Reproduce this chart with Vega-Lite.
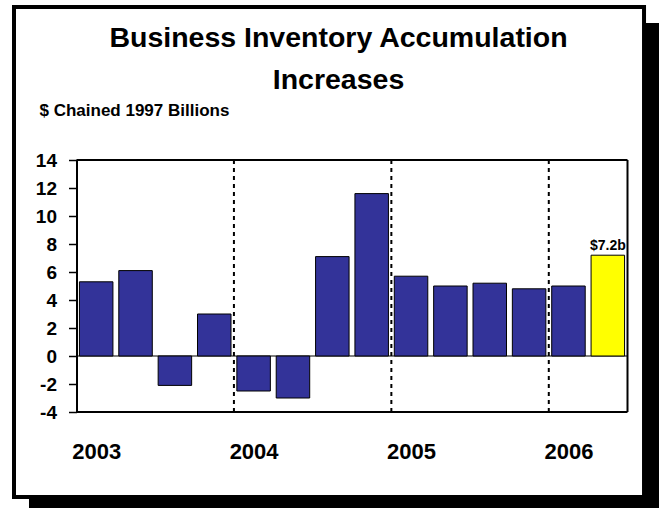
{
  "$schema": "https://vega.github.io/schema/vega-lite/v6.json",
  "width": 551,
  "height": 252,
  "autosize": {"type": "none"},
  "padding": {"left": 76.5, "top": 160, "right": 31.5, "bottom": 96},
  "background": "white",
  "config": {"view": {"stroke": null}, "font": "Liberation Sans"},
  "title": {
    "text": ["Business Inventory Accumulation", "Increases"],
    "frame": "group",
    "anchor": "middle",
    "dx": -13.5,
    "offset": -113,
    "baseline": "alphabetic",
    "lineHeight": 42,
    "fontSize": 28.5,
    "fontWeight": "bold",
    "font": "Liberation Sans",
    "color": "black"
  },
  "data": {
    "values": [
      {"quarter": "2003 Q1", "q": 1, "value": 5.3},
      {"quarter": "2003 Q2", "q": 2, "value": 6.1},
      {"quarter": "2003 Q3", "q": 3, "value": -2.1},
      {"quarter": "2003 Q4", "q": 4, "value": 3.0},
      {"quarter": "2004 Q1", "q": 5, "value": -2.5},
      {"quarter": "2004 Q2", "q": 6, "value": -3.0},
      {"quarter": "2004 Q3", "q": 7, "value": 7.1},
      {"quarter": "2004 Q4", "q": 8, "value": 11.6},
      {"quarter": "2005 Q1", "q": 9, "value": 5.7},
      {"quarter": "2005 Q2", "q": 10, "value": 5.0},
      {"quarter": "2005 Q3", "q": 11, "value": 5.2},
      {"quarter": "2005 Q4", "q": 12, "value": 4.8},
      {"quarter": "2006 Q1", "q": 13, "value": 5.0},
      {"quarter": "2006 Q2", "q": 14, "value": 7.2, "label": "$7.2b"}
    ]
  },
  "layer": [
    {
      "data": {"values": [{}]},
      "mark": {"type": "rect", "fill": "black"},
      "encoding": {
        "x": {
          "datum": -0.707,
          "type": "quantitative",
          "scale": {"domain": [0.5, 14.5], "nice": false, "zero": false, "padding": 0},
          "axis": {
            "values": [1, 5, 9, 13],
            "labelExpr": "datum.value == 1 ? '2003' : datum.value == 5 ? '2004' : datum.value == 9 ? '2005' : '2006'",
            "ticks": false,
            "domain": false,
            "grid": false,
            "title": null,
            "labelFontSize": 22,
            "labelFontWeight": "bold",
            "labelColor": "black",
            "labelPadding": 29,
            "labelAngle": 0,
            "labelFlush": false,
            "labelOverlap": false,
            "zindex": 2
          }
        },
        "x2": {"datum": 15.45},
        "y": {
          "datum": 23.79,
          "type": "quantitative",
          "scale": {"domain": [-4, 14], "nice": false, "zero": false, "padding": 0},
          "axis": {
            "values": [-4, -2, 0, 2, 4, 6, 8, 10, 12, 14],
            "tickCount": 10,
            "labelExpr": "replace(datum.label, '\u2212', '-')",
            "labelOverlap": false,
            "labelFlush": false,
            "title": "$ Chained 1997 Billions",
            "titleAngle": 0,
            "titleAlign": "left",
            "titleBaseline": "alphabetic",
            "titleX": -37.5,
            "titleY": -45,
            "titleFontSize": 17,
            "titleFontWeight": "bold",
            "titleColor": "black",
            "labelFontSize": 19,
            "labelFontWeight": "bold",
            "labelColor": "black",
            "labelPadding": 12,
            "tickSize": 8,
            "tickColor": "black",
            "tickWidth": 1.5,
            "domainColor": "black",
            "domainWidth": 2,
            "grid": false,
            "zindex": 2
          }
        },
        "y2": {"datum": -11.36}
      }
    },
    {
      "data": {"values": [{}]},
      "mark": {"type": "rect", "fill": "white", "stroke": "black", "strokeWidth": 4},
      "encoding": {
        "x": {"datum": -1.088, "type": "quantitative"},
        "x2": {"datum": 14.92},
        "y": {"datum": 24.93, "type": "quantitative"},
        "y2": {"datum": -10.07}
      }
    },
    {
      "data": {"values": [{}]},
      "mark": {"type": "rule", "color": "#555555", "strokeWidth": 1.5},
      "encoding": {"y": {"datum": 0, "type": "quantitative"}}
    },
    {
      "mark": {"type": "bar", "width": 33.5, "stroke": "black", "strokeWidth": 1, "orient": "vertical"},
      "encoding": {
        "x": {"field": "q", "type": "quantitative"},
        "y": {"field": "value", "type": "quantitative"},
        "color": {
          "condition": {"test": "datum.quarter === '2006 Q2'", "value": "#FFFF00"},
          "value": "#333399"
        }
      }
    },
    {
      "data": {"values": [{}]},
      "mark": {"type": "rule", "color": "black", "strokeWidth": 2, "strokeDash": [4, 4]},
      "encoding": {"x": {"datum": 4.5, "type": "quantitative"}}
    },
    {
      "data": {"values": [{}]},
      "mark": {"type": "rule", "color": "black", "strokeWidth": 2, "strokeDash": [4, 4]},
      "encoding": {"x": {"datum": 8.5, "type": "quantitative"}}
    },
    {
      "data": {"values": [{}]},
      "mark": {"type": "rule", "color": "black", "strokeWidth": 2, "strokeDash": [4, 4]},
      "encoding": {"x": {"datum": 12.5, "type": "quantitative"}}
    },
    {
      "data": {"values": [{}]},
      "mark": {"type": "rule", "color": "black", "strokeWidth": 2},
      "encoding": {"y": {"datum": 14, "type": "quantitative"}}
    },
    {
      "data": {"values": [{}]},
      "mark": {"type": "rule", "color": "black", "strokeWidth": 2},
      "encoding": {"y": {"datum": -4, "type": "quantitative"}}
    },
    {
      "data": {"values": [{}]},
      "mark": {"type": "rule", "color": "black", "strokeWidth": 2},
      "encoding": {"x": {"datum": 14.5, "type": "quantitative"}}
    },
    {
      "transform": [{"filter": "datum.label != null"}],
      "mark": {"type": "text", "baseline": "alphabetic", "dy": -5, "fontSize": 14, "fontWeight": "bold", "color": "black"},
      "encoding": {
        "x": {"field": "q", "type": "quantitative"},
        "y": {"field": "value", "type": "quantitative"},
        "text": {"field": "label"}
      }
    }
  ]
}
